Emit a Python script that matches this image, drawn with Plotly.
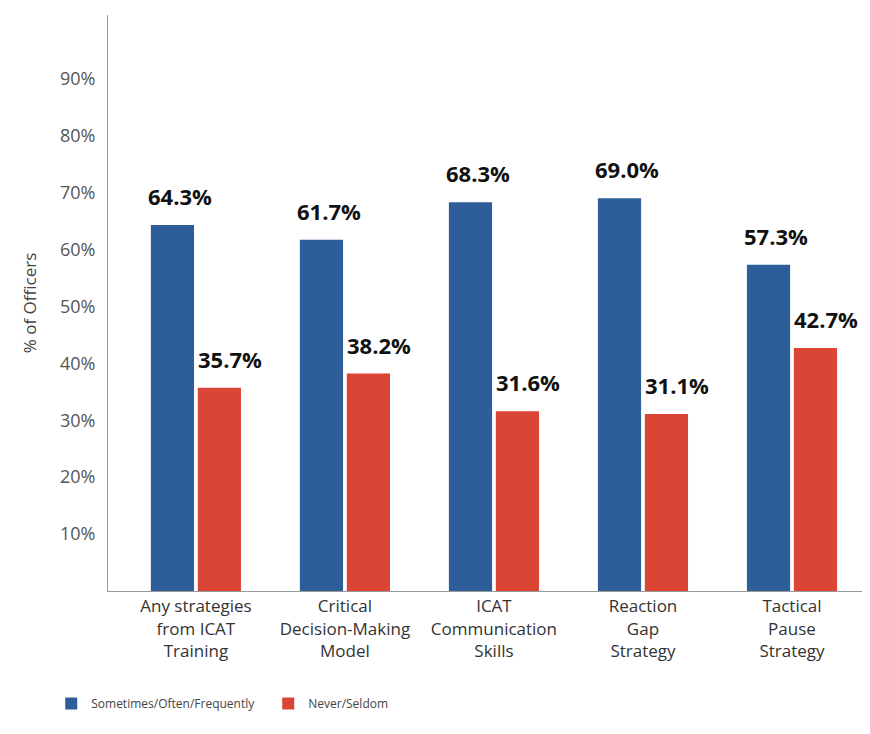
import plotly.graph_objects as go

categories = ["Any strategies<br>from ICAT<br>Training",
              "Critical<br>Decision-Making<br>Model",
              "ICAT<br>Communication<br>Skills",
              "Reaction<br>Gap<br>Strategy",
              "Tactical<br>Pause<br>Strategy"]
often = [64.3, 61.7, 68.3, 69.0, 57.3]
never = [35.7, 38.2, 31.6, 31.1, 42.7]
series_names = ["Sometimes/Often/Frequently", "Never/Seldom"]
colors = ["#2E5E9A", "#DA4535"]
y_ticks = [10, 20, 30, 40, 50, 60, 70, 80, 90]
y_ticklabels = [f"{v}%" for v in y_ticks]

fig = go.Figure()
for name, vals, col in zip(series_names, [often, never], colors):
    fig.add_trace(go.Bar(x=categories, y=vals, name=name,
                         marker=dict(color=col, line=dict(width=0))))

# value labels
for vals, xs in [(often, -16), (never, 34)]:
    for c, v in zip(categories, vals):
        fig.add_annotation(x=c, y=v, text=f"<b>{v:.1f}%</b>", showarrow=False,
                           xref="x", yref="y", xshift=xs, yshift=12,
                           yanchor="bottom",
                           font=dict(family="Open Sans", size=22, color="#111111"))

fig.update_layout(
    width=862, height=726,
    margin=dict(l=100, r=5, t=7, b=143),
    paper_bgcolor="white", plot_bgcolor="white",
    barmode="group", bargap=0.37, bargroupgap=0.08,
    font=dict(family="Open Sans", color="#444444"),
    showlegend=True,
    legend=dict(orientation="h", x=-0.075, y=-0.17, xanchor="left", yanchor="top",
                entrywidth=172, entrywidthmode="pixels",
                font=dict(size=12, color="#444444"), itemwidth=30,
                traceorder="normal"),
    xaxis=dict(showline=True, linecolor="#999999", linewidth=1,
               showgrid=False, ticks="", tickfont=dict(size=17, color="#333333"),
               range=[-0.59, 4.49]),
    yaxis=dict(range=[0, 101.2], tickvals=y_ticks, ticktext=y_ticklabels,
               showgrid=False, zeroline=False, showline=True, linecolor="#999999",
               linewidth=1, ticks="", ticklabelstandoff=8,
               tickfont=dict(size=18, color="#555555"),
               title=dict(text="% of Officers", font=dict(size=17, color="#444444"),
                          standoff=18)),
)

fig.write_html("out.html")
